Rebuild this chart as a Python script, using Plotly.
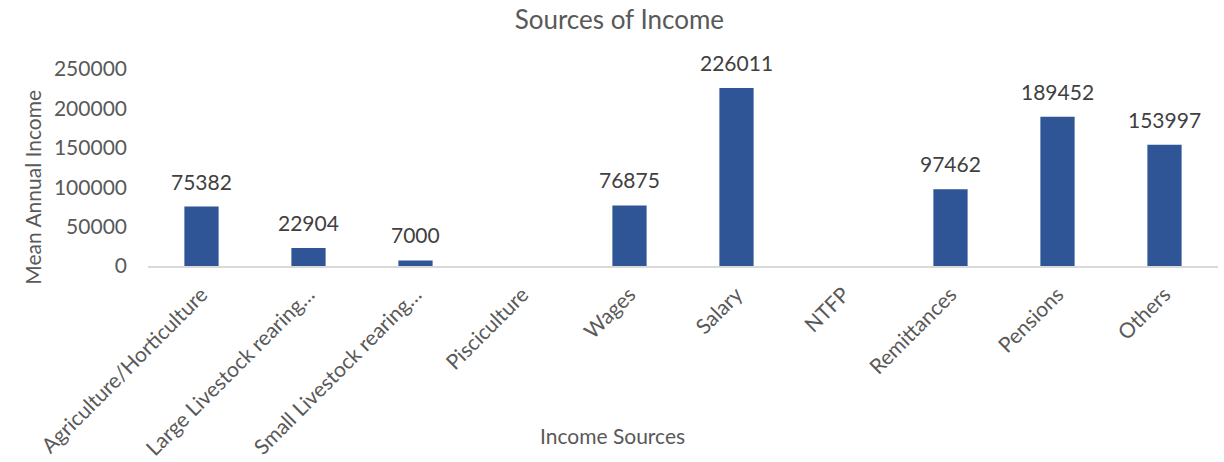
import plotly.graph_objects as go

# Mean annual income by source
categories = [
    "Agriculture/Horticulture",
    "Large Livestock rearing…",
    "Small Livestock rearing…",
    "Pisciculture",
    "Wages",
    "Salary",
    "NTFP",
    "Remittances",
    "Pensions",
    "Others",
]
mean_income = [75382, 22904, 7000, None, 76875, 226011, None, 97462, 189452, 153997]
y_ticks = [0, 50000, 100000, 150000, 200000, 250000]

FONT = "Lato"
GREY = "#595959"
DARK = "#404040"

fig = go.Figure(
    go.Bar(
        x=categories,
        y=mean_income,
        marker=dict(color="#2F5597", line=dict(width=0)),
        hoverinfo="x+y",
    )
)

# value labels above each bar
for cat, val in zip(categories, mean_income):
    if val is None:
        continue
    fig.add_annotation(
        x=cat,
        y=val,
        text=str(val),
        showarrow=False,
        yanchor="bottom",
        yshift=11,
        font=dict(family=FONT, size=21, color=DARK),
    )

# axis titles placed as annotations
fig.add_annotation(
    xref="paper",
    yref="paper",
    x=0.434,
    y=-0.86,
    text="Income Sources",
    showarrow=False,
    xanchor="center",
    yanchor="middle",
    font=dict(family=FONT, size=21, color=GREY),
)
fig.add_annotation(
    xref="paper",
    yref="paper",
    x=-0.108,
    y=0.40,
    text="Mean Annual Income",
    textangle=-90,
    showarrow=False,
    xanchor="center",
    yanchor="middle",
    font=dict(family=FONT, size=21, color=GREY),
)

fig.update_layout(
    width=1224,
    height=462,
    margin=dict(l=148, r=6, t=69, b=196, autoexpand=False),
    paper_bgcolor="white",
    plot_bgcolor="white",
    bargap=0.68,
    showlegend=False,
    title=dict(
        text="Sources of Income",
        x=0.506,
        xref="container",
        xanchor="center",
        y=0.958,
        yanchor="middle",
        font=dict(family=FONT, size=26, color=GREY),
    ),
    font=dict(family=FONT, color=GREY),
)

fig.update_xaxes(
    automargin=False,
    tickangle=-45,
    tickfont=dict(family=FONT, size=21, color=GREY),
    showline=True,
    linecolor="#D9D9D9",
    linewidth=2,
    ticks="outside",
    ticklen=6,
    tickcolor="rgba(0,0,0,0)",
    showgrid=False,
)

fig.update_yaxes(
    automargin=False,
    range=[0, 250000],
    tickvals=y_ticks,
    tickformat="d",
    tickfont=dict(family=FONT, size=21, color=GREY),
    showgrid=False,
    zeroline=False,
    showline=False,
    ticks="",
    ticklabelstandoff=20,
)

fig.write_html("out.html")
